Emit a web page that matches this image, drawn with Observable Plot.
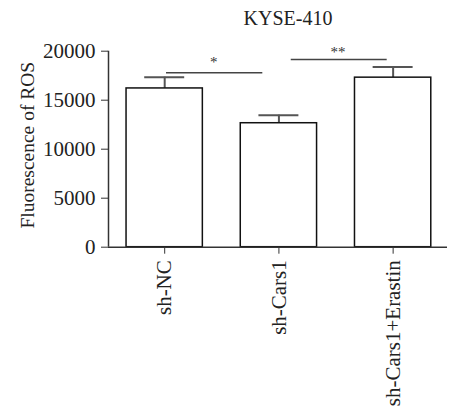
<!DOCTYPE html>
<html>
<head>
<meta charset="utf-8">
<script src="https://cdn.jsdelivr.net/npm/d3@7"></script>
<script src="https://cdn.jsdelivr.net/npm/@observablehq/plot@0.6"></script>
<style>
  body { margin: 0; background: #fff; }
  #title { width: 453px; box-sizing: border-box; padding-left: 123px; text-align: center;
           font: 20px "Liberation Serif", "DejaVu Serif", serif; color: #222; height: 34px; line-height: 36px; }
  svg { display: block; }
</style>
</head>
<body>
<div id="title">KYSE-410</div>
<div id="chart"></div>
<script>
const groups = ["sh-NC", "sh-Cars1", "sh-Cars1+Erastin"];
const means = [16200, 12650, 17300];
const sems = [1150, 820, 1080];
const yTicks = [0, 5000, 10000, 15000, 20000];
const yLabel = "Fluorescence of ROS";
// significance brackets: from/to positions on the group axis, height, label, label height
const sigFrom = [0.016, 1.108];
const sigTo = [0.859, 1.948];
const sigY = [17800, 19150];
const sigLabel = ["*", "**"];
const sigLabelX = [0.43, 1.517];
const sigLabelY = [19220, 20250];

const data = groups.map((g, i) => ({i, g, mean: means[i], sem: sems[i]}));
const sig = sigFrom.map((f, k) => ({f, t: sigTo[k], y: sigY[k], label: sigLabel[k], lx: sigLabelX[k], ly: sigLabelY[k]}));

const xDomain = [-0.492, 2.476];
const halfBar = 0.334, halfCap = 0.175;
const font = '"Liberation Serif", "DejaVu Serif", serif';

const chart = Plot.plot({
  width: 453,
  height: 379,
  marginLeft: 108,
  marginRight: 6,
  marginTop: 16.7,
  marginBottom: 166.3,
  style: {fontFamily: font, fontSize: "20px", color: "#222", background: "white"},
  x: {type: "linear", domain: xDomain, axis: null},
  y: {domain: [0, 20000], axis: null},
  marks: [
    Plot.ruleX(data, {x: "i", y1: "mean", y2: d => d.mean + d.sem, stroke: "#555", strokeWidth: 2}),
    Plot.ruleY(data, {x1: d => d.i - halfCap, x2: d => d.i + halfCap, y: d => d.mean + d.sem, stroke: "#555", strokeWidth: 2}),
    Plot.rect(data, {x1: d => d.i - halfBar, x2: d => d.i + halfBar, y1: 0, y2: "mean", fill: "white", stroke: "#111", strokeWidth: 1.5}),
    Plot.ruleY(sig, {x1: "f", x2: "t", y: "y", stroke: "#444", strokeWidth: 1.6}),
    Plot.text(sig, {x: "lx", y: "ly", text: "label", fontSize: 15, dy: 3, fill: "#333"}),
    Plot.axisY({ticks: yTicks, tickSize: 7, tickPadding: 6, tickFormat: d => String(d), fontSize: 21, label: null, stroke: "#333"}),
    Plot.axisX({ticks: [0, 1, 2], tickFormat: i => groups[i], tickRotate: -90, tickSize: 7, tickPadding: 6, fontSize: 21, label: null, stroke: "#333"}),
    Plot.ruleY([0], {stroke: "#333", strokeWidth: 1.5}),
    Plot.ruleX([xDomain[0]], {stroke: "#333", strokeWidth: 1.5}),
    Plot.text([yLabel], {frameAnchor: "left", rotate: -90, dx: -81, dy: -4, fontSize: 19.5, textAnchor: "middle", fill: "#222"})
  ]
});
document.getElementById("chart").appendChild(chart);
</script>
</body>
</html>
